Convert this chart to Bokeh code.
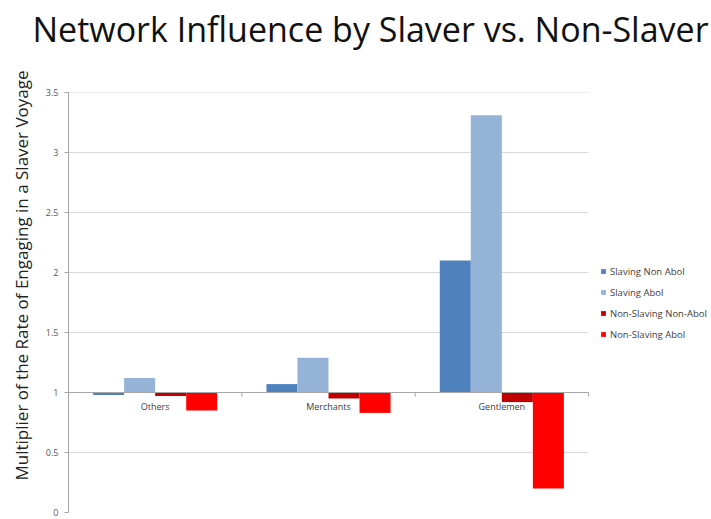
from bokeh.plotting import figure
from bokeh.models import Range1d, Legend, LegendItem, NumeralTickFormatter, FixedTicker, Title
from bokeh.core.properties import value
from bokeh.embed import file_html
from bokeh.resources import INLINE

categories = ["Others", "Merchants", "Gentlemen"]
series_names = ["Slaving Non Abol", "Slaving Abol", "Non-Slaving Non-Abol", "Non-Slaving Abol"]
slaving_non_abol = [0.98, 1.07, 2.10]
slaving_abol = [1.12, 1.29, 3.31]
nonslaving_non_abol = [0.97, 0.95, 0.92]
nonslaving_abol = [0.85, 0.83, 0.20]
series_values = [slaving_non_abol, slaving_abol, nonslaving_non_abol, nonslaving_abol]
colors = ["#4F81BD", "#95B3D7", "#C00000", "#FF0000"]
y_ticks = [0, 0.5, 1, 1.5, 2, 2.5, 3, 3.5]
baseline = 1

FONT = "Open Sans"
ncat = len(categories)
# the plotting area spans 520 px of the 643 px frame; the rest holds the legend
x_end = ncat * 643 / 520

p = figure(width=711, height=519, output_backend="svg", toolbar_location=None,
           x_range=Range1d(0, x_end), y_range=Range1d(0, 3.5),
           min_border_left=68, min_border_right=0, min_border_top=92, min_border_bottom=7)
p.outline_line_color = None
p.background_fill_color = "white"
p.border_fill_color = "white"

# spacer between frame and title, then the title itself
p.add_layout(Title(text=" ", text_font_size="10px", standoff=28), "above")
p.add_layout(Title(text="Network Influence by Slaver vs. Non-Slaver", text_font=FONT,
                   text_font_size="34px", text_font_style="normal", text_color="#111111",
                   align="left", offset=-36, standoff=0), "above")

p.add_layout(Title(text=" ", text_font_size="6px", standoff=2), "left")
p.add_layout(Title(text="Multiplier of the Rate of Engaging in a Slaver Voyage", text_font=FONT,
                   text_font_size="17px", text_font_style="normal", text_color="#222222",
                   align="left", offset=32, standoff=0), "left")

p.xaxis.visible = False
p.xgrid.visible = False
p.ygrid.visible = False

ax = p.yaxis[0]
ax.ticker = FixedTicker(ticks=y_ticks)
ax.formatter = NumeralTickFormatter(format="0.[0]")
ax.axis_line_color = "#A6A6A6"
ax.major_tick_line_color = "#A6A6A6"
ax.major_tick_out = 4
ax.major_tick_in = 0
ax.minor_tick_line_color = None
ax.major_label_text_font = FONT
ax.major_label_text_font_size = "9px"
ax.major_label_text_color = "#595959"
ax.major_label_standoff = 6

# horizontal gridlines across the category area only
grid_ticks = [t for t in y_ticks if t > 0 and t != baseline]
p.segment(x0=[0] * len(grid_ticks), x1=[ncat] * len(grid_ticks), y0=grid_ticks, y1=grid_ticks,
          line_color="#D9D9D9", line_width=1)

n = len(series_names)
bw = 0.179
centers = [i + 0.5 for i in range(ncat)]
items = []
for k, (name, vals, col) in enumerate(zip(series_names, series_values, colors)):
    xs = [c + (k - (n - 1) / 2) * bw for c in centers]
    r = p.vbar(x=xs, width=bw, bottom=baseline, top=vals, fill_color=col, line_color=None)
    items.append(LegendItem(label=name, renderers=[r]))

# category axis at y = 1
p.segment(x0=[0], x1=[ncat], y0=[baseline], y1=[baseline], line_color="#A6A6A6", line_width=1)
bounds = list(range(ncat + 1))
p.segment(x0=bounds, y0=[baseline] * len(bounds), x1=bounds, y1=[baseline - 0.035] * len(bounds),
          line_color="#A6A6A6", line_width=1)
p.text(x=centers, y=[baseline] * len(centers), text=categories, text_align="center",
       text_baseline="top", y_offset=7, text_font=value(FONT), text_font_size="9px",
       text_color="#404040")

legend = Legend(items=items, location=(532, 168), orientation="vertical",
                label_text_font=FONT, label_text_font_size="9.5px", label_text_color="#404040",
                glyph_width=6, glyph_height=6, label_height=20, spacing=1,
                padding=0, margin=0, border_line_color=None, background_fill_alpha=0,
                label_standoff=4)
p.add_layout(legend, "center")

open("out.html", "w").write(file_html(p, INLINE))
